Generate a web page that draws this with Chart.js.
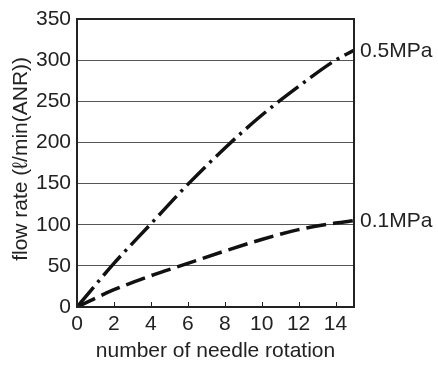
<!DOCTYPE html>
<html>
<head>
<meta charset="utf-8">
<script src="https://cdn.jsdelivr.net/npm/chart.js@4/dist/chart.umd.min.js"></script>
<style>
  html, body { margin: 0; padding: 0; background: #fff; }
  #wrap { width: 438px; height: 365px; }
</style>
</head>
<body>
<div id="wrap"><canvas id="c" width="438" height="365"></canvas></div>
<script>
const rotations = [0, 2, 4, 6, 8, 10, 12, 14, 15];
const flow05MPa = [0, 53, 101, 149, 193, 233, 268, 300, 312];
const flow01MPa = [0, 21, 38, 53, 68, 82, 94, 102, 105];
const seriesLabels = ['0.5MPa', '0.1MPa'];
const xTickValues = [0, 2, 4, 6, 8, 10, 12, 14];
const innerTickValues = [2, 4, 6, 8, 10, 12, 14];
const xTitle = 'number of needle rotation';
const yTitle = 'flow rate (\u2113/min(ANR))';

const FONT = '"Liberation Sans", Arial, Helvetica, sans-serif';
const INK = '#222';
const FS = 21;

const toPoints = (xs, ys) => xs.map((x, i) => ({ x: x, y: ys[i] }));

const framePlugin = {
  id: 'frame',
  afterDraw(chart) {
    const ctx = chart.ctx;
    const a = chart.chartArea;
    const xs = chart.scales.x;
    const ys = chart.scales.y;
    ctx.save();
    ctx.strokeStyle = INK;
    ctx.lineWidth = 1;
    innerTickValues.forEach(v => {
      const px = Math.round(xs.getPixelForValue(v)) + 0.5;
      ctx.beginPath();
      ctx.moveTo(px, a.bottom);
      ctx.lineTo(px, a.bottom - 5);
      ctx.stroke();
    });
    ctx.lineWidth = 2;
    ctx.strokeRect(a.left, a.top, a.right - a.left, a.bottom - a.top);
    ctx.fillStyle = INK;
    ctx.font = FS + 'px ' + FONT;
    ctx.textAlign = 'left';
    ctx.textBaseline = 'middle';
    chart.data.datasets.forEach((ds, i) => {
      const meta = chart.getDatasetMeta(i);
      const last = meta.data[meta.data.length - 1];
      ctx.fillText(ds.label, last.x + 6, last.y + 1);
    });
    // y-axis title, centred slightly above the plot middle as in the reference
    ctx.save();
    ctx.translate(21, ys.getPixelForValue(180));
    ctx.rotate(-Math.PI / 2);
    ctx.textAlign = 'center';
    ctx.textBaseline = 'middle';
    ctx.fillText(yTitle, 0, 0);
    ctx.restore();
    ctx.restore();
  }
};

new Chart(document.getElementById('c'), {
  type: 'line',
  data: {
    datasets: [
      {
        label: seriesLabels[0],
        data: toPoints(rotations, flow05MPa),
        borderColor: '#111',
        borderWidth: 3.5,
        borderDash: [26, 6, 3, 6],
        pointRadius: 0,
        cubicInterpolationMode: 'monotone',
        fill: false
      },
      {
        label: seriesLabels[1],
        data: toPoints(rotations, flow01MPa),
        borderColor: '#111',
        borderWidth: 3.5,
        borderDash: [20, 7],
        pointRadius: 0,
        cubicInterpolationMode: 'monotone',
        fill: false
      }
    ]
  },
  options: {
    responsive: false,
    animation: false,
    devicePixelRatio: 1,
    layout: { padding: { top: 19, right: 84, left: 0, bottom: 0 } },
    plugins: { legend: { display: false }, tooltip: { enabled: false } },
    scales: {
      x: {
        type: 'linear',
        min: 0,
        max: 15,
        afterBuildTicks: s => { s.ticks = xTickValues.map(v => ({ value: v })); },
        afterFit: s => { s.height = 58; },
        grid: { display: false, drawTicks: false },
        border: { display: false },
        ticks: { color: INK, font: { family: FONT, size: FS }, padding: 5, maxRotation: 0, autoSkip: false },
        title: { display: true, text: xTitle, color: INK, font: { family: FONT, size: FS }, padding: { top: 0, bottom: 1 } }
      },
      y: {
        type: 'linear',
        min: 0,
        max: 350,
        afterFit: s => { s.width = 77; },
        grid: { color: '#555', lineWidth: 1, drawTicks: false },
        border: { display: false },
        ticks: { stepSize: 50, color: INK, font: { family: FONT, size: FS }, padding: 6 },
        title: { display: false }
      }
    }
  },
  plugins: [framePlugin]
});
</script>
</body>
</html>
